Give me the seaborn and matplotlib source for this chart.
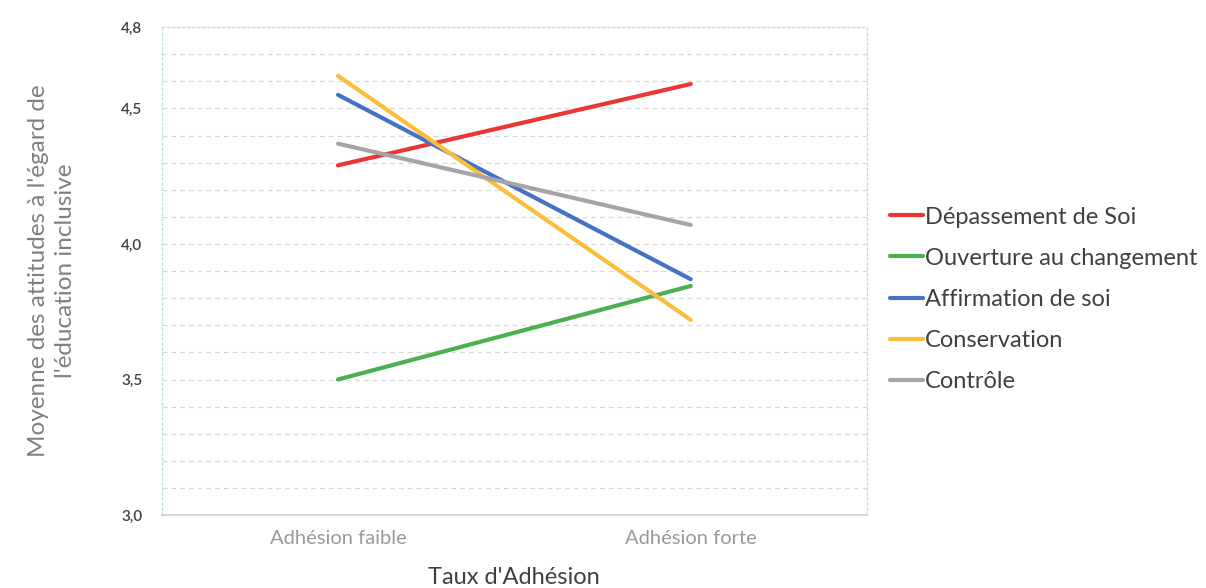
import pandas as pd
import matplotlib.pyplot as plt
import seaborn as sns

# values
niveaux = ["Adhésion faible", "Adhésion forte"]
groupes = ["Dépassement de Soi", "Ouverture au changement", "Affirmation de soi",
           "Conservation", "Contrôle"]
depassement = [4.29, 4.59]
ouverture = [3.50, 3.845]
affirmation = [4.55, 3.87]
conservation = [4.62, 3.72]
controle = [4.37, 4.07]

couleurs = ["#EE3535", "#4CAF50", "#4472C4", "#FBBE3A", "#A5A5A5"]
y_ticks = [3.0, 3.5, 4.0, 4.5, 4.8]

sns.set_style("white")
plt.rcParams['font.family'] = ['Lato', 'DejaVu Sans']

rows = []
for g, vals in zip(groupes, [depassement, ouverture, affirmation, conservation, controle]):
    for niv, v in zip(niveaux, vals):
        rows.append({"Taux": niv, "Moyenne": v, "Groupe": g})
df = pd.DataFrame(rows)

fig, ax = plt.subplots(figsize=(12.06, 5.88), dpi=100)
plt.subplots_adjust(left=0.134, right=0.719, top=0.954, bottom=0.124)

sns.lineplot(data=df, x="Taux", y="Moyenne", hue="Groupe", hue_order=groupes,
             palette=couleurs, linewidth=3, sort=False, ax=ax, zorder=3)

ax.set_xlim(-0.5, 1.5)
ax.set_ylim(3.0, 4.8)
ax.set_yticks(y_ticks)
ax.set_yticklabels([f"{t:.1f}".replace(".", ",") for t in y_ticks],
                   fontsize=11, color="#404040", fontweight="semibold")
ax.set_xticks([0, 1])
ax.set_xticklabels(niveaux, fontsize=14.5, color="#9A9A9A")
ax.tick_params(axis="y", length=0, pad=14)
ax.tick_params(axis="x", length=0, pad=11)

# dashed minor grid every 0.1
for k in range(31, 48):
    ax.axhline(k / 10, color="#D9D9D9", linestyle=(0, (4, 3)), linewidth=0.9, zorder=1)

for side in ["left", "top", "right"]:
    ax.spines[side].set_color("#BFE3D0")
    ax.spines[side].set_linestyle((0, (2, 2)))
    ax.spines[side].set_linewidth(0.9)
ax.spines["bottom"].set_color("#D0D0D0")
ax.spines["bottom"].set_linewidth(1.2)

ax.set_xlabel("Taux d'Adhésion", fontsize=17, color="#404040", labelpad=14)
ax.set_ylabel("Moyenne des attitudes à l'égard de\nl'éducation inclusive",
              fontsize=17.5, color="#808080", labelpad=32, linespacing=1.4)

ax.legend(loc="center left", bbox_to_anchor=(0.72, 0.491), bbox_transform=fig.transFigure,
          frameon=False, fontsize=17, handlelength=1.4, handletextpad=0.1,
          labelspacing=0.85, labelcolor="#404040")

plt.savefig("out.png", dpi=100)
